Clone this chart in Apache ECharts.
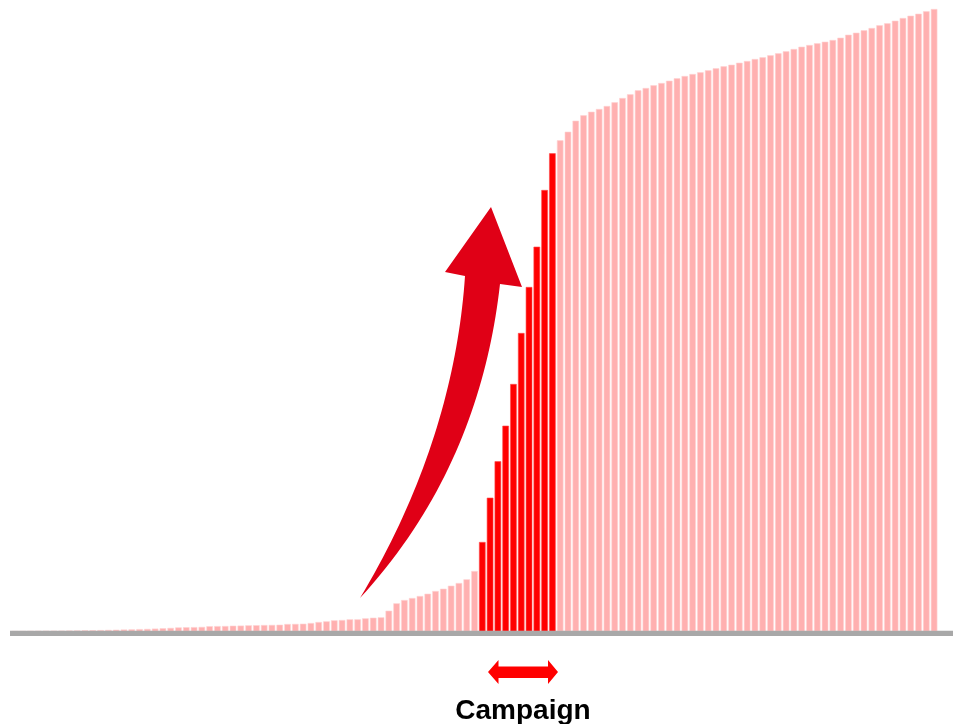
<!DOCTYPE html>
<html>
<head>
<meta charset="utf-8">
<title>Campaign</title>
<script src="https://cdn.jsdelivr.net/npm/echarts@6/dist/echarts.min.js"></script>
<style>
  html, body { margin: 0; padding: 0; background: #ffffff; }
  #chart { width: 953px; height: 724px; }
</style>
</head>
<body>
<div id="chart"></div>
<script>
// Period values before, during and after the campaign
const before = [
  0.2, 0.3, 0.4, 0.5, 0.6, 0.7, 0.8, 0.9, 1.0, 1.2,
  1.3, 1.4, 1.6, 1.8, 2.0, 2.2, 2.4, 2.6, 2.9, 3.3,
  3.6, 4.1, 4.3, 4.4, 4.6, 5.3, 5.4, 5.5, 5.8, 5.9,
  6.2, 6.3, 6.5, 6.6, 6.8, 7.5, 7.6, 7.8, 8.5, 9.5,
  10.2, 11.2, 11.5, 12.2, 12.2, 13.2, 13.8, 14.2, 20.8, 28.2,
  31.5, 33.5, 35.5, 37.8, 40.5, 42.8, 45.8, 48.5, 52.2, 60.5
];
const campaign = [89.5, 133.8, 170.2, 205.8, 247.5, 298.5, 344.5, 384.8, 441.5, 478.2];
const after = [
  491.2, 499.8, 510.8, 516.2, 519.8, 522.5, 525.5, 529.2, 533.5, 537.2,
  541.2, 543.5, 546.2, 548.5, 550.8, 553.2, 555.5, 557.5, 559.2, 561.2,
  563.2, 565.2, 566.8, 568.8, 570.5, 572.5, 574.2, 576.2, 578.2, 580.2,
  582.5, 584.8, 586.5, 588.2, 589.8, 591.5, 593.8, 596.8, 598.8, 601.2,
  603.5, 606.2, 608.2, 610.8, 613.5, 615.8, 617.8, 620.2, 622.5
];
const campaignLabel = 'Campaign';

const values = before.concat(campaign, after);
const categories = values.map((_, i) => String(i + 1));
const campaignFrom = before.length;
const campaignTo = before.length + campaign.length - 1;

const PINK = '#FFB0B0';
const RED = '#FF0000';
const ARROW = '#E00016';

const barData = values.map((v, i) => {
  const inCampaign = i >= campaignFrom && i <= campaignTo;
  return {
    value: v,
    itemStyle: inCampaign
      ? { color: RED, borderColor: '#ff4a4a', borderWidth: 0.6 }
      : { color: PINK, borderColor: '#ffd4d4', borderWidth: 0.6 }
  };
});

// sample a cubic Bézier segment into points (excluding the start point)
function cubic(p0, p1, p2, p3, steps) {
  const pts = [];
  for (let k = 1; k <= steps; k++) {
    const t = k / steps, u = 1 - t;
    const a = u * u * u, b = 3 * u * u * t, c = 3 * u * t * t, d = t * t * t;
    pts.push([
      a * p0[0] + b * p1[0] + c * p2[0] + d * p3[0],
      a * p0[1] + b * p1[1] + c * p2[1] + d * p3[1]
    ]);
  }
  return pts;
}

// outline of the curved growth arrow: head, right edge down to the tail, left edge back up
const arrowOutline = [[491, 207], [522, 287], [500, 284]]
  .concat(cubic([500, 284], [488, 390], [450, 500], [360, 598], 40))
  .concat(cubic([360, 598], [425, 490], [458, 380], [465, 276], 40))
  .concat([[445, 272]]);

const chart = echarts.init(document.getElementById('chart'), null, { renderer: 'canvas' });

chart.setOption({
  animation: false,
  backgroundColor: '#ffffff',
  grid: { left: 11, right: 15, top: 1.5, bottom: 92.5 },
  xAxis: {
    type: 'category',
    data: categories,
    boundaryGap: true,
    axisLine: { show: false },
    axisTick: { show: false },
    axisLabel: { show: false },
    splitLine: { show: false }
  },
  yAxis: {
    type: 'value',
    min: 0,
    max: 630,
    show: false,
    splitLine: { show: false }
  },
  series: [{
    type: 'bar',
    data: barData,
    barCategoryGap: '16%',
    z: 2
  }],
  graphic: [
    // baseline
    {
      type: 'rect',
      z: 10,
      shape: { x: 10, y: 630.8, width: 943, height: 5.2 },
      style: { fill: '#A8A8A8' }
    },
    // curved growth arrow
    {
      type: 'polygon',
      z: 20,
      shape: { points: arrowOutline },
      style: { fill: ARROW }
    },
    // double-headed arrow marking the campaign span
    {
      type: 'polygon',
      z: 20,
      shape: {
        points: [
          [488, 672], [498.5, 660], [498.5, 666.5], [548, 666.5], [548, 660],
          [558, 672], [548, 684], [548, 678], [498.5, 678], [498.5, 684]
        ]
      },
      style: { fill: RED }
    },
    {
      type: 'text',
      z: 20,
      x: 523,
      y: 711,
      style: {
        text: campaignLabel,
        fill: '#000000',
        font: 'bold 28px "Liberation Sans", Arial, sans-serif',
        align: 'center',
        verticalAlign: 'middle'
      }
    }
  ]
});
</script>
</body>
</html>
